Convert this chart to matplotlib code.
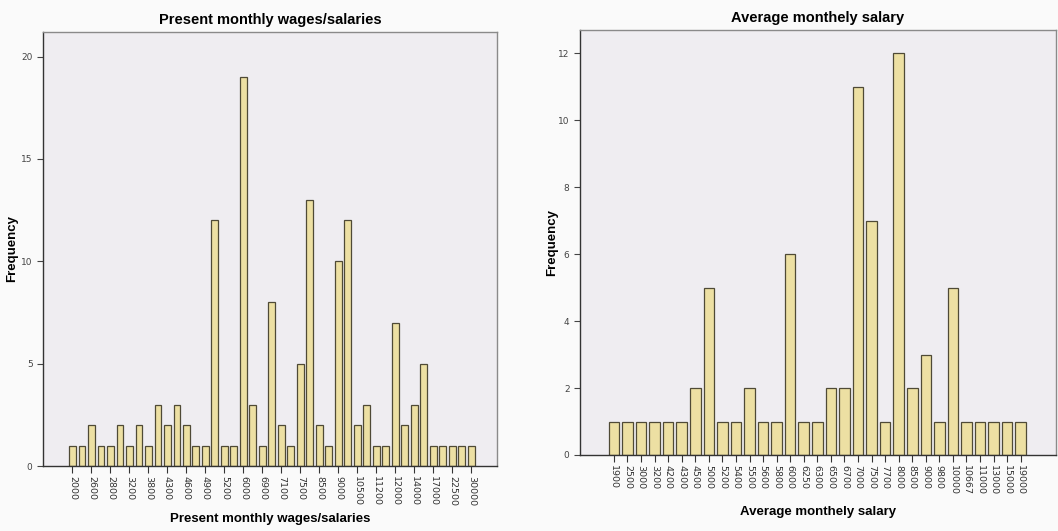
import matplotlib.pyplot as plt
import numpy as np

# left chart: present monthly wages/salaries (43 bars, every other one labelled)
present_freq = [1, 1, 2, 1, 1, 2, 1, 2, 1, 3,
                2, 3, 2, 1, 1, 12, 1, 1, 19, 3,
                1, 8, 2, 1, 5, 13, 2, 1, 10, 12,
                2, 3, 1, 1, 7, 2, 3, 5, 1,
                1, 1, 1, 1]
present_labels = ["2000", "2600", "2800", "3200", "3800", "4300", "4600", "4900",
                  "5200", "6000", "6900", "7100", "7500", "8500", "9000", "10500",
                  "11200", "12000", "14000", "17000", "22500", "30000"]

# right chart: average monthely salary
avg_labels = ["1900", "2500", "3000", "3200", "4200", "4300", "4500", "5000",
              "5200", "5400", "5500", "5600", "5800", "6000", "6250", "6300",
              "6500", "6700", "7000", "7500", "7700", "8000", "8500", "9000",
              "9800", "10000", "10667", "11000", "13000", "15000", "19000"]
avg_freq = [1, 1, 1, 1, 1, 1, 2, 5, 1, 1, 2, 1, 1, 6, 1, 1,
            2, 2, 11, 7, 1, 12, 2, 3, 1, 5, 1, 1, 1, 1, 1]

bar_color = "#ede0a3"
edge_color = "#4f4a36"
panel_bg = "#efedf1"
fonts = ["Liberation Sans Narrow", "Liberation Sans", "DejaVu Sans"]

fig = plt.figure(figsize=(10.58, 5.31), dpi=100)
fig.patch.set_facecolor("#fafafa")


def style(ax, title, xlabel, ylabel_x, xpad):
    ax.set_facecolor(panel_bg)
    for s in ax.spines.values():
        s.set_color("#8a8a8a")
        s.set_linewidth(1.0)
    ax.spines["bottom"].set_color("#333333")
    ax.spines["left"].set_color("#333333")
    ax.set_title(title, fontsize=10.5, fontweight="bold", family=fonts, pad=6)
    ax.set_xlabel(xlabel, fontsize=9.5, fontweight="bold", family=fonts, labelpad=xpad)
    ax.set_ylabel("Frequency", fontsize=9.5, fontweight="bold", family=fonts)
    ax.yaxis.set_label_coords(ylabel_x, 0.5)
    ax.tick_params(axis="y", labelsize=6.5, colors="#444444", length=4)
    ax.tick_params(axis="x", labelsize=6.8, colors="#333333", length=5, pad=2, rotation=270)


# left panel
ax1 = fig.add_axes([43 / 1058, 65 / 531, 454 / 1058, 434 / 531])
x1 = np.arange(len(present_freq))
ax1.bar(x1, present_freq, width=0.72, color=bar_color, edgecolor=edge_color, linewidth=0.9)
ax1.set_xlim(-3.1, len(present_freq) + 1.7)
ax1.set_ylim(0, 21.2)
ax1.set_yticks([0, 5, 10, 15, 20])
ax1.set_xticks(x1[::2])
ax1.set_xticklabels(present_labels)
style(ax1, "Present monthly wages/salaries", "Present monthly wages/salaries", -0.055, 5)

# right panel
ax2 = fig.add_axes([580 / 1058, 76 / 531, 476 / 1058, 425 / 531])
x2 = np.arange(len(avg_freq))
ax2.bar(x2, avg_freq, width=0.78, color=bar_color, edgecolor=edge_color, linewidth=0.9)
ax2.set_xlim(-2.5, len(avg_freq) + 1.6)
ax2.set_ylim(0, 12.7)
ax2.set_yticks([0, 2, 4, 6, 8, 10, 12])
ax2.set_xticks(x2)
ax2.set_xticklabels(avg_labels)
style(ax2, "Average monthely salary", "Average monthely salary", -0.045, 8)

fig.savefig("out.png", dpi=100, facecolor=fig.get_facecolor())
